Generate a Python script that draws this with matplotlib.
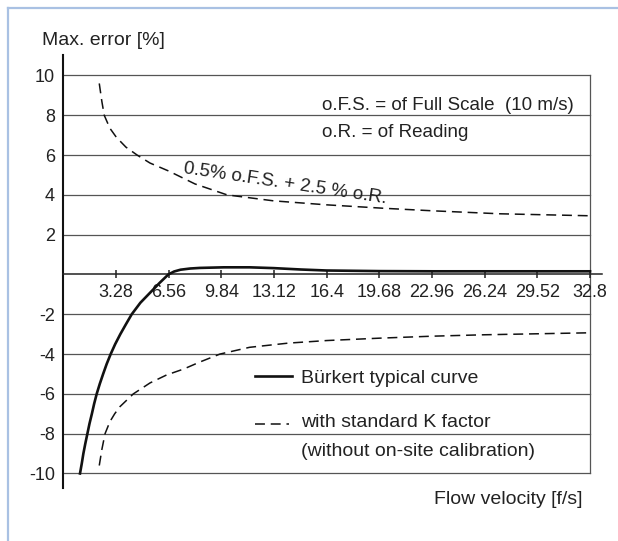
import matplotlib.pyplot as plt
from matplotlib.lines import Line2D

plt.rcParams['font.family'] = ['Liberation Sans', 'DejaVu Sans']
plt.rcParams['axes.unicode_minus'] = False

# values
burkert_x = [1.04, 1.15, 1.25, 1.37, 1.5, 1.63, 1.78, 1.92, 2.08, 2.27, 2.48, 2.7, 2.95,
             3.23, 3.55, 3.9, 4.26, 4.8, 5.4, 6.0, 6.54, 6.9, 7.3, 7.9, 8.5, 10.0,
             11.6, 13.1, 14.8, 16.4, 19.7, 23.0, 26.2, 29.5, 32.8]
burkert_y = [-10.0, -9.5, -9.0, -8.5, -8.0, -7.5, -7.0, -6.5, -6.0, -5.5, -5.0, -4.5, -4.0,
             -3.5, -3.0, -2.5, -2.0, -1.42, -0.92, -0.42, 0.0, 0.15, 0.24, 0.3, 0.33, 0.36,
             0.36, 0.32, 0.25, 0.2, 0.17, 0.16, 0.16, 0.16, 0.16]

upper_x = [2.24, 2.4, 2.55, 2.9, 3.3, 3.9, 4.6, 5.4, 6.56, 8.2, 10.2, 13.1, 16.4,
           19.9, 23.0, 27.2, 32.8]
upper_y = [9.6, 8.7, 8.0, 7.35, 6.9, 6.4, 6.0, 5.6, 5.2, 4.55, 4.0, 3.7, 3.5,
           3.33, 3.2, 3.05, 2.95]

lower_x = [2.24, 2.4, 2.6, 2.9, 3.2, 3.53, 4.36, 5.4, 6.43, 7.5, 8.5, 9.75, 11.6,
           14.0, 16.4, 19.7, 23.0, 26.2, 29.5, 32.8]
lower_y = [-9.6, -8.8, -8.0, -7.4, -7.0, -6.64, -6.0, -5.45, -5.05, -4.75, -4.4, -4.0, -3.66,
           -3.45, -3.32, -3.2, -3.1, -3.03, -2.98, -2.93]

xticks = [3.28, 6.56, 9.84, 13.12, 16.4, 19.68, 22.96, 26.24, 29.52, 32.8]
xtick_labels = ['3.28', '6.56', '9.84', '13.12', '16.4', '19.68', '22.96', '26.24', '29.52', '32.8']
yticks = [10, 8, 6, 4, 2, -2, -4, -6, -8, -10]
ytick_labels = ['10', '8', '6', '4', '2', '-2', '-4', '-6', '-8', '-10']

W, H = 618, 541
fig = plt.figure(figsize=(W/100, H/100), dpi=100)
ax = fig.add_axes([63.3/W, 53/H, 538.3/W, 433/H])
ax.set_xlim(0, 33.52)
ax.set_ylim(-10.73, 11.03)

TXT = '#222222'
GRID = '#555555'
dash = (6.5, 3.8)

# grid box
for v in yticks:
    ax.plot([0, 32.8], [v, v], color=GRID, lw=0.9, zorder=1)
ax.plot([32.8, 32.8], [-10, 10], color=GRID, lw=0.9, zorder=1)

ax.plot(upper_x, upper_y, color='#111111', lw=1.1, dashes=dash, zorder=3)
ax.plot(lower_x, lower_y, color='#111111', lw=1.1, dashes=dash, zorder=3)
ax.plot(burkert_x, burkert_y, color='#111111', lw=1.9, zorder=4, solid_joinstyle='round')

for s in ['top', 'right']:
    ax.spines[s].set_visible(False)
ax.spines['bottom'].set_position(('data', 0))
ax.spines['bottom'].set_linewidth(1.1)
ax.spines['left'].set_linewidth(1.5)
ax.spines['bottom'].set_color('#222222')
ax.spines['left'].set_color('#111111')

ax.set_xticks(xticks)
ax.set_xticklabels(xtick_labels)
ax.set_yticks(yticks)
ax.set_yticklabels(ytick_labels)
ax.tick_params(axis='x', direction='inout', length=6, width=1.1, pad=4,
               labelsize=13, labelcolor=TXT, color='#222222')
ax.tick_params(axis='y', length=0, pad=6, labelsize=13, labelcolor=TXT)

# annotations
ax.text(16.08, 8.27, 'o.F.S. = of Full Scale  (10 m/s)', fontsize=13.5, color=TXT, va='baseline')
ax.text(16.08, 6.92, 'o.R. = of Reading', fontsize=13.5, color=TXT, va='baseline')
ax.text(13.82, 4.58, '0.5% o.F.S. + 2.5 % o.R.', fontsize=13.5, color=TXT,
        rotation=-8.5, rotation_mode='anchor', ha='center', va='center')

# legend
ax.plot([11.93, 14.23], [-5.1, -5.1], color='#111111', lw=1.9)
ax.text(14.79, -5.47, 'Bürkert typical curve', fontsize=14, color=TXT, va='baseline')
ax.plot([11.93, 14.03], [-7.5, -7.5], color='#111111', lw=1.1, dashes=dash)
ax.text(14.79, -7.65, 'with standard K factor', fontsize=14, color=TXT, va='baseline')
ax.text(14.79, -9.1, '(without on-site calibration)', fontsize=14, color=TXT, va='baseline')

fig.text(42/W, 1 - 45/H, 'Max. error [%]', fontsize=14, color=TXT, va='baseline')
fig.text(582/W, 1 - 504/H, 'Flow velocity [f/s]', fontsize=14, color=TXT, va='baseline', ha='right')

# light blue frame
blue = '#a9c1e3'
fig.add_artist(Line2D([7.5/W, 7.5/W], [0, 1 - 8/H], color=blue, lw=1.6))
fig.add_artist(Line2D([7.5/W, 1], [1 - 8/H, 1 - 8/H], color=blue, lw=1.6))

fig.savefig('out.png', dpi=100)
